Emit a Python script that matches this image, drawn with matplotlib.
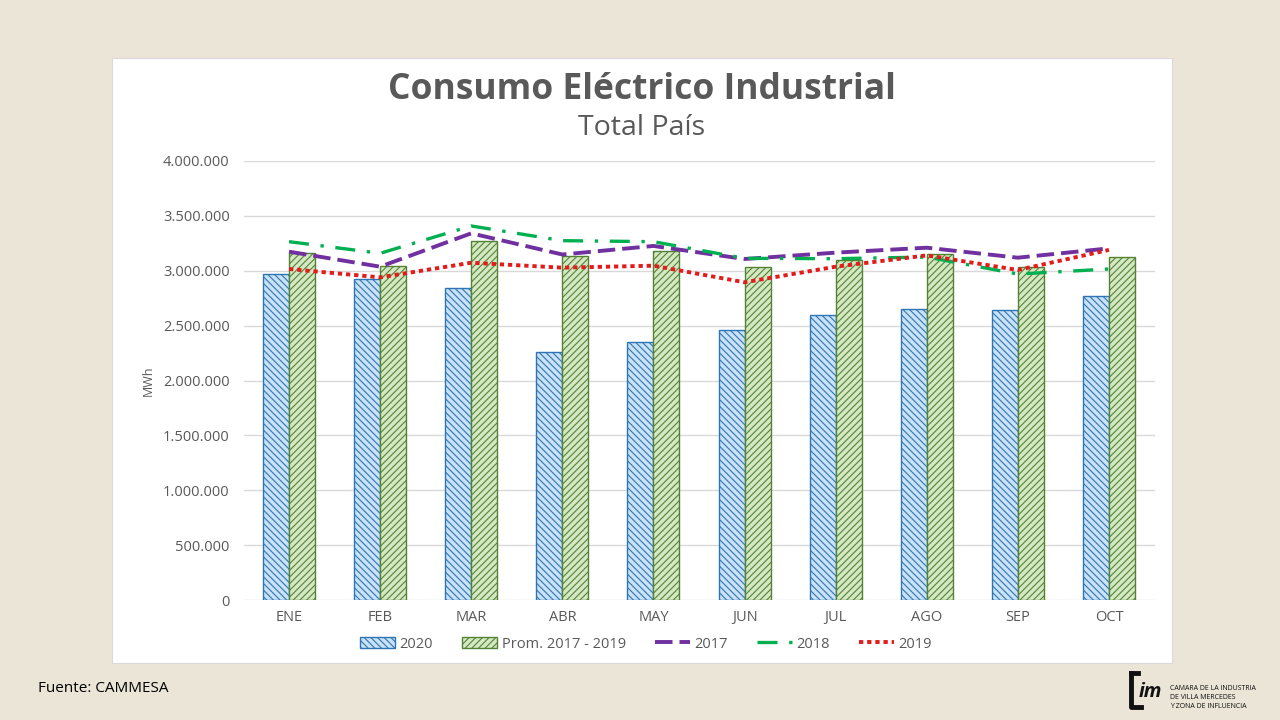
import matplotlib
matplotlib.use("Agg")
import matplotlib.pyplot as plt
from matplotlib.patches import Rectangle, Patch
from matplotlib.lines import Line2D
from matplotlib.ticker import FuncFormatter, MultipleLocator
import numpy as np

plt.rcParams['font.family'] = ['Open Sans', 'DejaVu Sans']

months = ["ENE", "FEB", "MAR", "ABR", "MAY", "JUN", "JUL", "AGO", "SEP", "OCT"]
v2020 = [2970000, 2925000, 2843000, 2260000, 2351000, 2460000, 2597000, 2651000, 2642000, 2770000]
prom = [3162000, 3046000, 3271000, 3137000, 3183000, 3037000, 3098000, 3153000, 3031000, 3128000]
v2017 = [3174000, 3037000, 3341000, 3148000, 3226000, 3107000, 3165000, 3210000, 3119000, 3204000]
v2018 = [3265000, 3159000, 3408000, 3274000, 3265000, 3113000, 3110000, 3125000, 2970000, 3016000]
v2019 = [3016000, 2940000, 3073000, 3028000, 3046000, 2895000, 3037000, 3140000, 3007000, 3190000]

title = "Consumo Eléctrico Industrial"
subtitle = "Total País"
ylabel = "MWh"
source = "Fuente: CAMMESA"

gray = "#595959"
blue = "#2E75B6"
green = "#548235"
plt.rcParams['hatch.linewidth'] = 0.8

fig = plt.figure(figsize=(12.8, 7.2), dpi=100)
fig.patch.set_facecolor("#EBE5D8")

# white card
fig.patches.append(Rectangle((112/1280, 1-663/720), 1060/1280, 605/720,
                             transform=fig.transFigure, facecolor="white",
                             edgecolor="#D9D9D9", linewidth=0.8, zorder=-5))

ax = fig.add_axes([243.5/1280, 1-600/720, 911/1280, 439/720])
ax.set_zorder(2)
ax.set_facecolor("white")
x = np.arange(len(months))
w = 0.285
ax.bar(x - w/2, v2020, width=w, facecolor="#C9E2F5", edgecolor=blue, hatch="\\\\\\\\\\",
       linewidth=1.0, zorder=2, label="2020")
ax.bar(x + w/2, prom, width=w, facecolor="#D5E8C4", edgecolor=green, hatch="/////",
       linewidth=1.0, zorder=2, label="Prom. 2017 - 2019")
ax.plot(x, v2017, color="#7030A0", lw=2.8, dashes=(4.5, 1.8), zorder=3, label="2017",
        dash_capstyle="butt")
ax.plot(x, v2018, color="#00B050", lw=2.4, dashes=(6, 3.5, 1, 3.5), zorder=3, label="2018",
        dash_capstyle="butt")
ax.plot(x, v2019, color="#E31B1B", lw=2.8, dashes=(1.1, 1.0), zorder=4, label="2019",
        dash_capstyle="butt")

ax.set_xlim(-0.5, len(months) - 0.5)
ax.set_ylim(0, 4000000)
ax.yaxis.set_major_locator(MultipleLocator(500000))
ax.yaxis.set_major_formatter(FuncFormatter(lambda v, p: f"{int(v):,}".replace(",", ".")))
ax.set_xticks(x)
ax.set_xticklabels(months)
ax.tick_params(axis='both', length=0, labelsize=10.5, labelcolor=gray)
ax.tick_params(axis='y', pad=10)
ax.tick_params(axis='x', pad=7)
ax.grid(axis='y', color="#D9D9D9", linewidth=1.0, zorder=0)
ax.set_axisbelow(True)
for s in ax.spines.values():
    s.set_visible(False)
ax.set_ylabel(ylabel, fontsize=9, color=gray, labelpad=6)

fig.text(642/1280, 1-90/720, title, ha="center", va="center", fontsize=25.5,
         fontweight="bold", color=gray)
fig.text(642/1280, 1-128/720, subtitle, ha="center", va="center", fontsize=20.5,
         color=gray)

handles = [
    Patch(facecolor="#C9E2F5", edgecolor=blue, hatch="\\\\\\\\\\", label="2020"),
    Patch(facecolor="#D5E8C4", edgecolor=green, hatch="/////", label="Prom. 2017 - 2019"),
    Line2D([], [], color="#7030A0", lw=2.8, dashes=(4.5, 1.8), label="2017"),
    Line2D([], [], color="#00B050", lw=2.4, dashes=(6, 3.5, 1, 3.5), label="2018"),
    Line2D([], [], color="#E31B1B", lw=2.8, dashes=(1.1, 1.0), label="2019"),
]
leg = fig.legend(handles=handles, loc="center", bbox_to_anchor=(646/1280, 1-644/720),
                 ncol=5, frameon=False, fontsize=10.5, handlelength=2.4,
                 handletextpad=0.3, columnspacing=2.0)
for t in leg.get_texts():
    t.set_color(gray)

fig.text(38/1280, 1-689/720, source, ha="left", va="center", fontsize=11, color="black")

# logo approximation
lc = "#111111"
fig.add_artist(Line2D([1131/1280, 1131/1280, 1141/1280], [1-673/720, 1-707/720, 1-707/720],
                      transform=fig.transFigure, color=lc, lw=3.5))
fig.add_artist(Line2D([1131/1280, 1138/1280], [1-673/720, 1-673/720],
                      transform=fig.transFigure, color=lc, lw=3.5))
fig.text(1150/1280, 1-692/720, "im", ha="center", va="center", fontsize=14,
         fontweight="bold", style="italic", color=lc)
for i, line in enumerate(["CAMARA DE LA INDUSTRIA", "DE VILLA MERCEDES", "Y ZONA DE INFLUENCIA"]):
    fig.text(1170/1280, 1-(689 + i*8.5)/720, line, ha="left", va="center", fontsize=5,
             color=lc)

fig.savefig("out.png", dpi=100, facecolor=fig.get_facecolor())
